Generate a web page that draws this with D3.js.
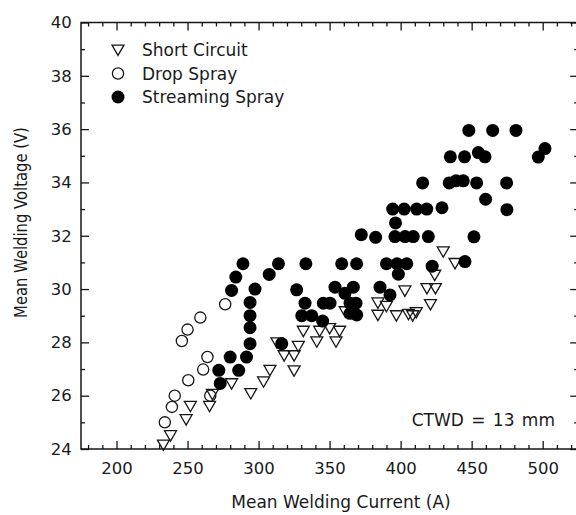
<!DOCTYPE html>
<html>
<head>
<meta charset="utf-8">
<script src="https://cdn.jsdelivr.net/npm/d3@7"></script>
<style>
  html, body { margin: 0; padding: 0; background: #fff; }
  svg { display: block; }
  text { font-family: "DejaVu Sans", sans-serif; fill: #1a1a1a; }
</style>
</head>
<body>
<svg id="chart" width="576" height="515"></svg>
<script>
// Mean welding current (A) and mean welding voltage (V) by metal transfer mode
const shortCircuit = [
  [233, 24.15], [238, 24.5], [249, 25.1], [252, 25.6], [265.5, 25.6], [267.5, 26.05],
  [281, 26.45], [294.5, 26.08], [303.5, 26.52], [308, 26.95], [313, 27.98], [318, 27.5],
  [325, 27.5], [325, 26.93], [328, 27.85], [331.5, 28.42], [341, 28.02], [343, 28.42],
  [350, 28.52], [354.5, 28.02], [357, 28.42], [361, 29.15], [384, 29.48], [384, 29.02],
  [390, 29.35], [397, 29.0], [403, 29.93], [405.5, 29.05], [408.5, 29.0], [411, 29.12],
  [418.5, 30.02], [424.5, 30.02], [421, 29.42], [424, 30.52], [430, 31.4], [438.3, 30.96]
];
const dropSpray = [
  [234, 25.0], [239, 25.58], [241, 26.0], [250.5, 26.58], [261, 26.98], [264, 27.45],
  [266, 26.0], [246, 28.05], [250, 28.48], [259, 28.93], [276.5, 29.43]
];
const streamingSpray = [
  [273, 26.46], [272, 26.95], [280, 27.45], [286, 26.95], [291.5, 27.45], [294, 27.95],
  [294, 28.55], [294, 29.0], [294, 29.5], [297.5, 30.0], [281, 29.95], [284, 30.45],
  [289, 30.95], [307.5, 30.55], [314, 30.95], [316.3, 27.95], [326.8, 29.97], [333.3, 30.95],
  [330.4, 29.0], [337.4, 29.0], [332.7, 29.47], [345.6, 29.47], [350.3, 29.47], [345.1, 28.8],
  [353.8, 30.07], [358.5, 30.95], [369, 30.95], [360.8, 29.84], [366.7, 30.07], [364.4, 29.47],
  [368.6, 29.47], [364.4, 29.09], [369.1, 29.03], [372.3, 32.04], [382.4, 31.94], [385.5, 30.07],
  [392.5, 29.78], [390, 30.95], [397.5, 30.95], [404.3, 30.95], [398.4, 30.56], [396, 31.97],
  [403.1, 31.97], [408.9, 31.97], [419.5, 31.97], [396.4, 32.48], [394.4, 33.0], [402.5, 33.0],
  [411.3, 33.0], [418.4, 33.0], [429.1, 33.05], [415.5, 33.98], [434.2, 33.98], [439, 34.06],
  [444.1, 34.06], [453.5, 33.98], [474.6, 33.98], [459.8, 33.37], [474.8, 32.98], [451.6, 31.96],
  [445.3, 31.03], [422.2, 30.86], [435, 34.96], [445, 34.96], [454.7, 35.12], [459.4, 34.96],
  [496.9, 34.95], [501.6, 35.27], [448, 35.95], [464.8, 35.95], [481.2, 35.95]
];

const seriesNames = ["Short Circuit", "Drop Spray", "Streaming Spray"];
const xMajor = [200, 250, 300, 350, 400, 450, 500];
const yMajor = [24, 26, 28, 30, 32, 34, 36, 38, 40];
const xLabel = "Mean Welding Current (A)";
const yLabel = "Mean Welding Voltage (V)";
const note = "CTWD = 13 mm";

const svg = d3.select("#chart");
const plotL = 81, plotR = 578.2, plotT = 22.5, plotB = 449;

const x = d3.scaleLinear().domain([175, 525]).range([plotL, plotR]);
const y = d3.scaleLinear().domain([24, 40]).range([plotB, plotT]);

const xMinor = d3.range(180, 525, 10).filter(v => v % 50 !== 0);
const yMinor = d3.range(25, 40, 2);

const ink = "#161616";

// frame
svg.append("rect")
  .attr("x", plotL).attr("y", plotT)
  .attr("width", plotR - plotL).attr("height", plotB - plotT)
  .attr("fill", "none").attr("stroke", ink).attr("stroke-width", 1.5);

// tick marks point inward on all four sides
function ticks(g) {
  g.selectAll(".domain").remove();
  g.selectAll(".tick line").attr("stroke", ink).attr("stroke-width", 1.3);
}
const fs = "16.5px";

svg.append("g").attr("transform", `translate(0,${plotB})`)
  .call(d3.axisBottom(x).tickValues(xMajor).tickSizeInner(-8).tickSizeOuter(0).tickPadding(13.3))
  .call(ticks)
  .call(g => g.selectAll("text").style("font-size", fs).attr("fill", ink));
svg.append("g").attr("transform", `translate(0,${plotB})`)
  .call(d3.axisBottom(x).tickValues(xMinor).tickSizeInner(-4).tickSizeOuter(0).tickFormat(""))
  .call(ticks);
svg.append("g").attr("transform", `translate(0,${plotT})`)
  .call(d3.axisTop(x).tickValues(xMajor).tickSizeInner(-8).tickSizeOuter(0).tickFormat(""))
  .call(ticks);
svg.append("g").attr("transform", `translate(0,${plotT})`)
  .call(d3.axisTop(x).tickValues(xMinor).tickSizeInner(-4).tickSizeOuter(0).tickFormat(""))
  .call(ticks);

svg.append("g").attr("transform", `translate(${plotL},0)`)
  .call(d3.axisLeft(y).tickValues(yMajor).tickSizeInner(-8).tickSizeOuter(0).tickPadding(9.3))
  .call(ticks)
  .call(g => g.selectAll("text").style("font-size", fs).attr("fill", ink));
svg.append("g").attr("transform", `translate(${plotL},0)`)
  .call(d3.axisLeft(y).tickValues(yMinor).tickSizeInner(-4).tickSizeOuter(0).tickFormat(""))
  .call(ticks);
svg.append("g").attr("transform", `translate(${plotR},0)`)
  .call(d3.axisRight(y).tickValues(yMajor).tickSizeInner(-8).tickSizeOuter(0).tickFormat(""))
  .call(ticks);
svg.append("g").attr("transform", `translate(${plotR},0)`)
  .call(d3.axisRight(y).tickValues(yMinor).tickSizeInner(-4).tickSizeOuter(0).tickFormat(""))
  .call(ticks);

// axis titles
svg.append("text")
  .attr("x", 341).attr("y", 508)
  .attr("text-anchor", "middle").style("font-size", "17px")
  .text(xLabel);
svg.append("text")
  .attr("transform", `translate(27.5,222.5) rotate(-90) scale(1,1.15)`)
  .attr("text-anchor", "middle").attr("dy", "-0.05em").style("font-size", "14.8px")
  .text(yLabel);

// markers
const tri = d3.symbol().type(d3.symbolTriangle).size(62)();
const plot = svg.append("g");

plot.selectAll("path.sc").data(shortCircuit).join("path")
  .attr("class", "sc")
  .attr("d", tri)
  .attr("transform", d => `translate(${x(d[0])},${y(d[1]) - 1.5}) rotate(180)`)
  .attr("fill", "none").attr("stroke", ink).attr("stroke-width", 1.3);

plot.selectAll("circle.ds").data(dropSpray).join("circle")
  .attr("class", "ds")
  .attr("cx", d => x(d[0])).attr("cy", d => y(d[1])).attr("r", 5.6)
  .attr("fill", "none").attr("stroke", ink).attr("stroke-width", 1.3);

plot.selectAll("circle.ss").data(streamingSpray).join("circle")
  .attr("class", "ss")
  .attr("cx", d => x(d[0])).attr("cy", d => y(d[1])).attr("r", 6.5)
  .attr("fill", "#000");

// legend
const legend = svg.append("g");
const ly = [50, 73.5, 97];
legend.append("path").attr("d", tri)
  .attr("transform", `translate(118,${ly[0] - 1.5}) rotate(180)`)
  .attr("fill", "none").attr("stroke", ink).attr("stroke-width", 1.3);
legend.append("circle").attr("cx", 118).attr("cy", ly[1]).attr("r", 5.6)
  .attr("fill", "none").attr("stroke", ink).attr("stroke-width", 1.3);
legend.append("circle").attr("cx", 118).attr("cy", ly[2]).attr("r", 6.5).attr("fill", "#000");
legend.selectAll("text").data(seriesNames).join("text")
  .attr("x", 142).attr("y", (d, i) => ly[i]).attr("dy", "0.36em")
  .style("font-size", "17px")
  .text(d => d);

// contact-tip-to-work distance note
svg.append("text")
  .attr("x", 555).attr("y", 426)
  .attr("text-anchor", "end").style("font-size", "17px").style("word-spacing", "2px")
  .text(note);
</script>
</body>
</html>
